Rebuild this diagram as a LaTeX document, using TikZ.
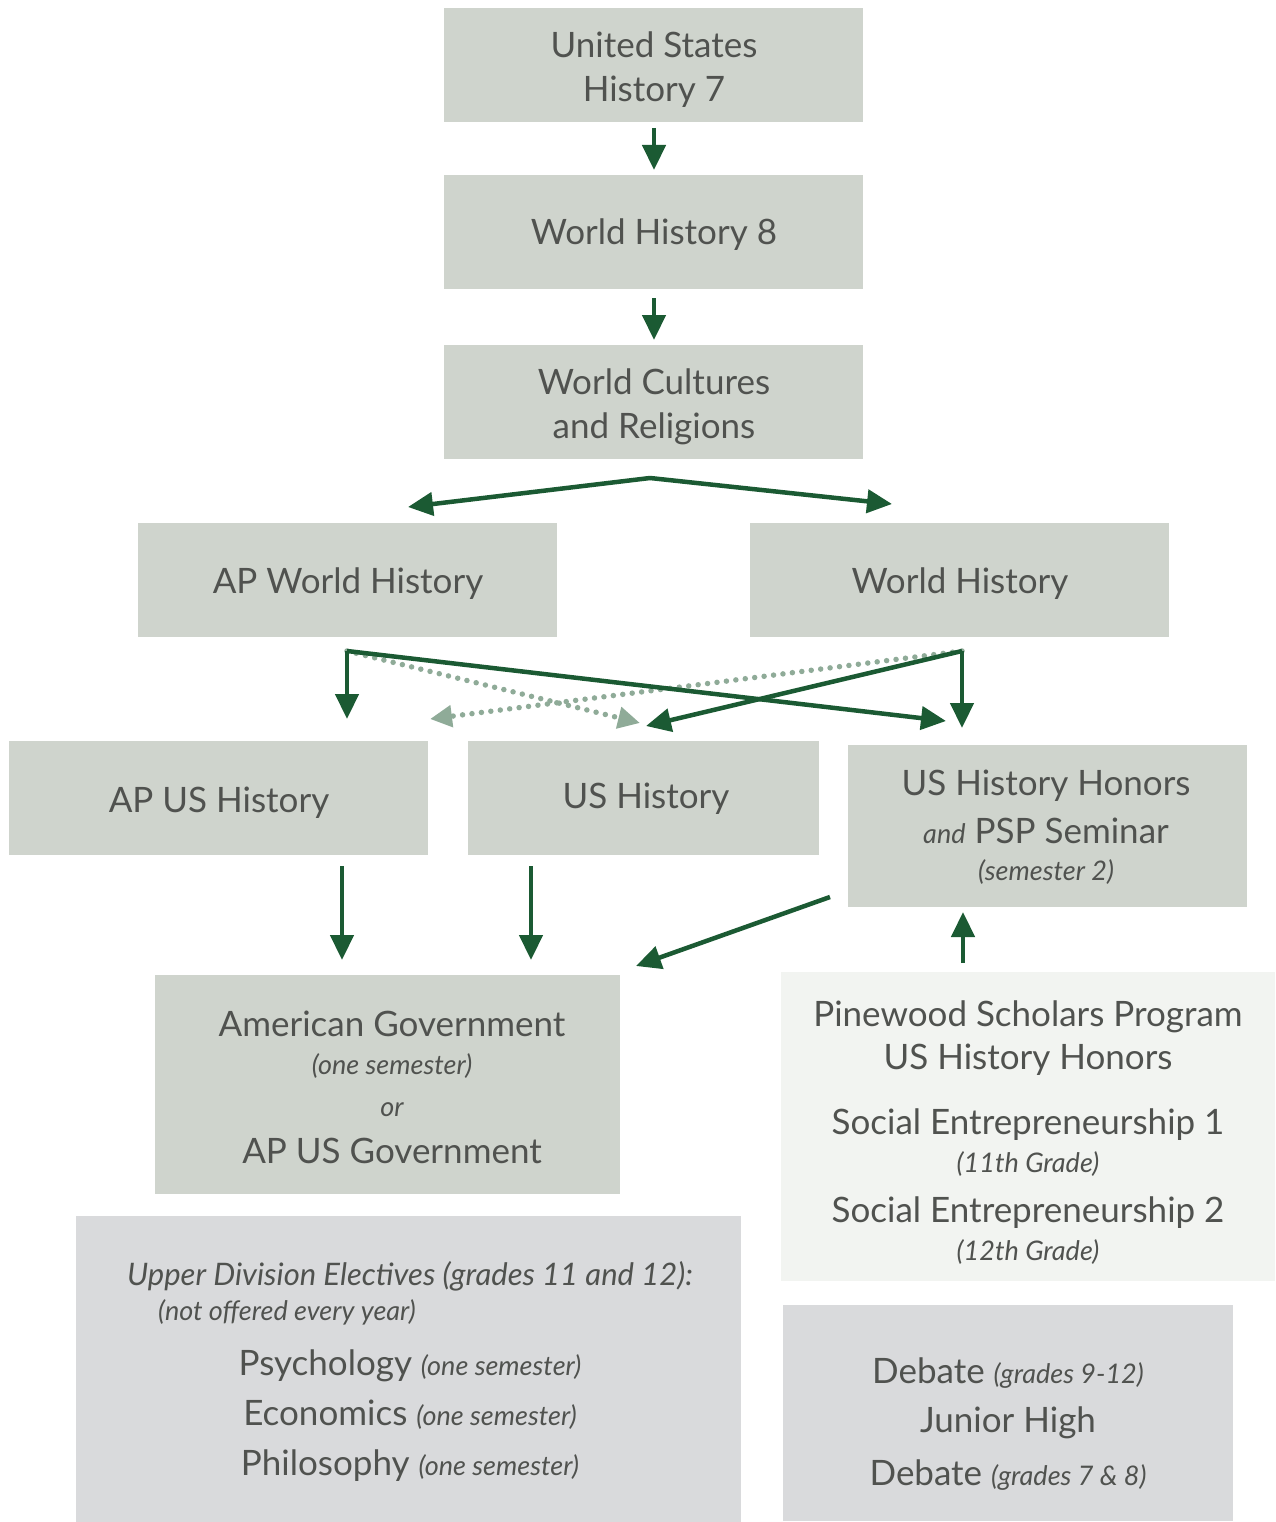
\documentclass[tikz,border=0pt]{standalone}
\usepackage{fontspec}
\setmainfont{Lato}
\usetikzlibrary{arrows.meta}
\definecolor{boxg}{HTML}{CFD4CD}
\definecolor{boxl}{HTML}{F2F4F1}
\definecolor{boxgr}{HTML}{D9DADC}
\definecolor{txt}{HTML}{50524F}
\definecolor{arr}{HTML}{1B5A33}
\definecolor{dotg}{HTML}{8FAB98}
\newcommand{\bigtxt}{\fontsize{35}{44}\selectfont}
\newcommand{\smltxt}{\fontsize{27}{32}\selectfont\itshape}
\begin{document}
\begin{tikzpicture}[x=1pt,y=-1pt,
  box/.style={fill=#1,draw=none,inner sep=0pt,anchor=north west},
  lbl/.style={text=txt,font=\bigtxt,inner sep=0pt,align=center},
  slbl/.style={text=txt,font=\smltxt,inner sep=0pt,align=center},
  arrow/.style={draw=arr,line width=4.5pt,-{Triangle[length=25pt,width=23pt]}},
  dotarrow/.style={draw=dotg,line width=5.5pt,dash pattern=on 0pt off 9.5pt,line cap=round,-{Triangle[length=22pt,width=21pt]}}]
\useasboundingbox (0,0) rectangle (1275,1522);
% boxes
\node[box=boxg,minimum width=419pt,minimum height=114pt] (b1) at (444,8) {};
\node[box=boxg,minimum width=419pt,minimum height=114pt] (b2) at (444,175) {};
\node[box=boxg,minimum width=419pt,minimum height=114pt] (b3) at (444,345) {};
\node[box=boxg,minimum width=419pt,minimum height=114pt] (apw) at (138,523) {};
\node[box=boxg,minimum width=419pt,minimum height=114pt] (wh) at (750,523) {};
\node[box=boxg,minimum width=419pt,minimum height=114pt] (apus) at (9,741) {};
\node[box=boxg,minimum width=351pt,minimum height=114pt] (ush) at (468,741) {};
\node[box=boxg,minimum width=399pt,minimum height=162pt] (ushh) at (848,745) {};
\node[box=boxg,minimum width=465pt,minimum height=219pt] (amg) at (155,975) {};
\node[box=boxl,minimum width=494pt,minimum height=309pt] (psp) at (781,972) {};
\node[box=boxgr,minimum width=665pt,minimum height=306pt] (upd) at (76,1216) {};
\node[box=boxgr,minimum width=450pt,minimum height=216pt] (deb) at (783,1305) {};
% labels
\node[lbl] (t1) at (654,70) {United States\\History 7};
\node[lbl] (t2) at (654,235) {World History 8};
\node[lbl] (t3) at (654,407) {World Cultures\\and Religions};
\node[lbl] (t4) at (348,584) {AP World History};
\node[lbl] (t5) at (960,584) {World History};
\node[lbl] (t6) at (219,803) {AP US History};
\node[lbl] (t7) at (646,799) {US History};
\node[lbl] (t8a) at (1046,786) {US History Honors};
\node[lbl] (t8b) at (1046,831) {{\smltxt and} PSP Seminar};
\node[slbl] (t8c) at (1046,872) {(semester 2)};
\node[lbl] (a1) at (392,1024) {American Government};
\node[slbl] (a2) at (392,1066) {(one semester)};
\node[slbl] (a3) at (392,1110) {or};
\node[lbl] (a4) at (392,1151) {AP US Government};
\node[lbl] (p1) at (1028,1017) {Pinewood Scholars Program};
\node[lbl] (p2) at (1028,1060) {US History Honors};
\node[lbl] (p3) at (1028,1125) {Social Entrepreneurship 1};
\node[slbl] (p4) at (1028,1164) {(11th Grade)};
\node[lbl] (p5) at (1028,1213) {Social Entrepreneurship 2};
\node[slbl] (p6) at (1028,1252) {(12th Grade)};
\node[slbl,font=\fontsize{31}{36}\selectfont\itshape] (u1) at (410,1276) {Upper Division Electives (grades 11 and 12):};
\node[slbl,anchor=west] (u2) at (158,1312) {(not offered every year)};
\node[lbl] (u3) at (410,1366) {Psychology {\smltxt(one semester)}};
\node[lbl] (u4) at (410,1415) {Economics {\smltxt(one semester)}};
\node[lbl] (u5) at (410,1466) {Philosophy {\smltxt(one semester)}};
\node[lbl] (d1) at (1008,1373) {Debate {\smltxt(grades 9-12)}};
\node[lbl] (d2) at (1008,1423) {Junior High};
\node[lbl] (d3) at (1008,1475) {Debate {\smltxt(grades 7 \& 8)}};
% connector coordinates
\coordinate (c1s) at (654,128); \coordinate (c1e) at (654,170);
\coordinate (c2s) at (654,298); \coordinate (c2e) at (654,340);
\coordinate (sp) at (650,478);
\coordinate (spl) at (408,507); \coordinate (spr) at (892,504);
\coordinate (apwo) at (347,651); \coordinate (who) at (962,651);
\coordinate (apusi) at (347,719); \coordinate (ushhi) at (946,721);
\coordinate (whd) at (962,728); \coordinate (ushi) at (646,726);
\coordinate (dot1) at (640,723); \coordinate (dot2) at (430,719);
\coordinate (apusb) at (342,866); \coordinate (amg1) at (342,960);
\coordinate (ushb) at (531,866); \coordinate (amg2) at (531,960);
\coordinate (ushhb) at (830,897); \coordinate (amg3) at (636,966);
\coordinate (pspt) at (963,963); \coordinate (ushhd) at (963,912);
% connectors
\draw[dotarrow] (apwo) -- (dot1);
\draw[dotarrow] (who) -- (dot2);
\draw[arrow] (c1s) -- (c1e);
\draw[arrow] (c2s) -- (c2e);
\draw[arrow] (sp) -- (spl);
\draw[arrow] (sp) -- (spr);
\draw[arrow] (apwo) -- (apusi);
\draw[arrow] (apwo) -- (ushhi);
\draw[arrow] (who) -- (whd);
\draw[arrow] (who) -- (ushi);
\draw[arrow] (apusb) -- (amg1);
\draw[arrow] (ushb) -- (amg2);
\draw[arrow] (ushhb) -- (amg3);
\draw[arrow] (pspt) -- (ushhd);
\end{tikzpicture}
\end{document}
